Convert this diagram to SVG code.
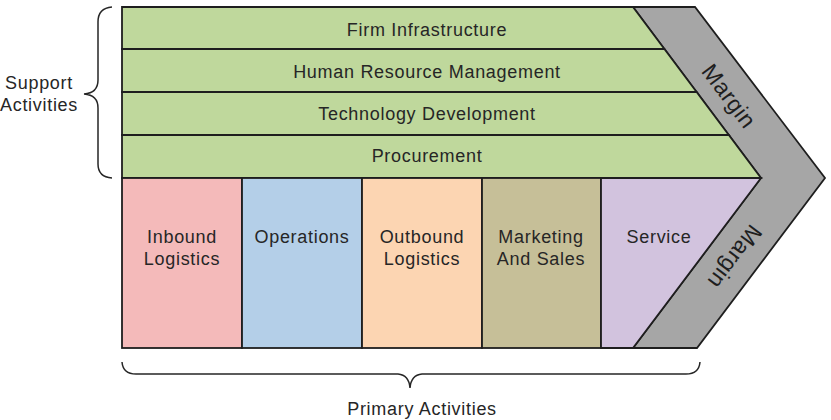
<svg xmlns="http://www.w3.org/2000/svg" width="831" height="420" viewBox="0 0 831 420">
<style>
.box{stroke:#1e1e1e;stroke-width:1.8;stroke-linejoin:miter}
.lbl{font-family:"Liberation Sans",Arial,sans-serif;font-size:18px;letter-spacing:0.7px;fill:#262626;text-anchor:middle}
.mrg{font-family:"Liberation Sans",Arial,sans-serif;font-size:23px;letter-spacing:0.5px;fill:#1e1e1e;text-anchor:middle;dominant-baseline:central}
.brace{fill:none;stroke:#262626;stroke-width:1.5}
</style>
<rect width="831" height="420" fill="#ffffff"/>
<g id="margin">
<polygon class="box" fill="#a6a6a6" points="633,7 695,7 825,178 697,348 633,348 761,178"/>
<text class="mrg" transform="translate(729,96) rotate(53.1)">Margin</text>
<text class="mrg" transform="translate(735,257) rotate(127)">Margin</text>
</g>
<g id="firm-infrastructure">
<polygon class="box" fill="#bfd89c" points="122,7 633,7 664.4,49 122,49"/>
<text class="lbl" x="427" y="36">Firm Infrastructure</text>
</g>
<g id="human-resource-management">
<polygon class="box" fill="#bfd89c" points="122,49 664.4,49 696.6,92 122,92"/>
<text class="lbl" x="427" y="78">Human Resource Management</text>
</g>
<g id="technology-development">
<polygon class="box" fill="#bfd89c" points="122,92 696.6,92 728.8,135 122,135"/>
<text class="lbl" x="427" y="120">Technology Development</text>
</g>
<g id="procurement">
<polygon class="box" fill="#bfd89c" points="122,135 728.8,135 761,178 122,178"/>
<text class="lbl" x="427" y="162">Procurement</text>
</g>
<g id="inbound-logistics">
<rect class="box" fill="#f4baba" x="122" y="178" width="120" height="170"/>
<text class="lbl" x="182" y="243">Inbound</text>
<text class="lbl" x="182" y="264.5">Logistics</text>
</g>
<g id="operations">
<rect class="box" fill="#b4cfe8" x="242" y="178" width="120" height="170"/>
<text class="lbl" x="302" y="243">Operations</text>
</g>
<g id="outbound-logistics">
<rect class="box" fill="#fcd5b2" x="362" y="178" width="120" height="170"/>
<text class="lbl" x="422" y="243">Outbound</text>
<text class="lbl" x="422" y="264.5">Logistics</text>
</g>
<g id="marketing-and-sales">
<rect class="box" fill="#c6bf98" x="482" y="178" width="119" height="170"/>
<text class="lbl" x="541" y="243">Marketing</text>
<text class="lbl" x="541" y="264.5">And Sales</text>
</g>
<g id="service">
<polygon class="box" fill="#d2c3de" points="601,178 761,178 633,348 601,348"/>
<text class="lbl" x="659" y="243">Service</text>
</g>
<g id="connectors">
<path class="brace" d="M112,7 Q98,8 98,22 L98,80 Q98,93 84,94 Q98,95 98,108 L98,164 Q98,177 112,178"/>
<path class="brace" d="M122,362 Q123,374 136,374 L398,374 Q409,375 410,388 Q411,375 422,374 L686,374 Q699,374 700,362"/>
</g>
<g id="support-activities">
<text class="lbl" x="39" y="89">Support</text>
<text class="lbl" x="39" y="110.5">Activities</text>
</g>
<g id="primary-activities">
<text class="lbl" x="422" y="415">Primary Activities</text>
</g>
</svg>
